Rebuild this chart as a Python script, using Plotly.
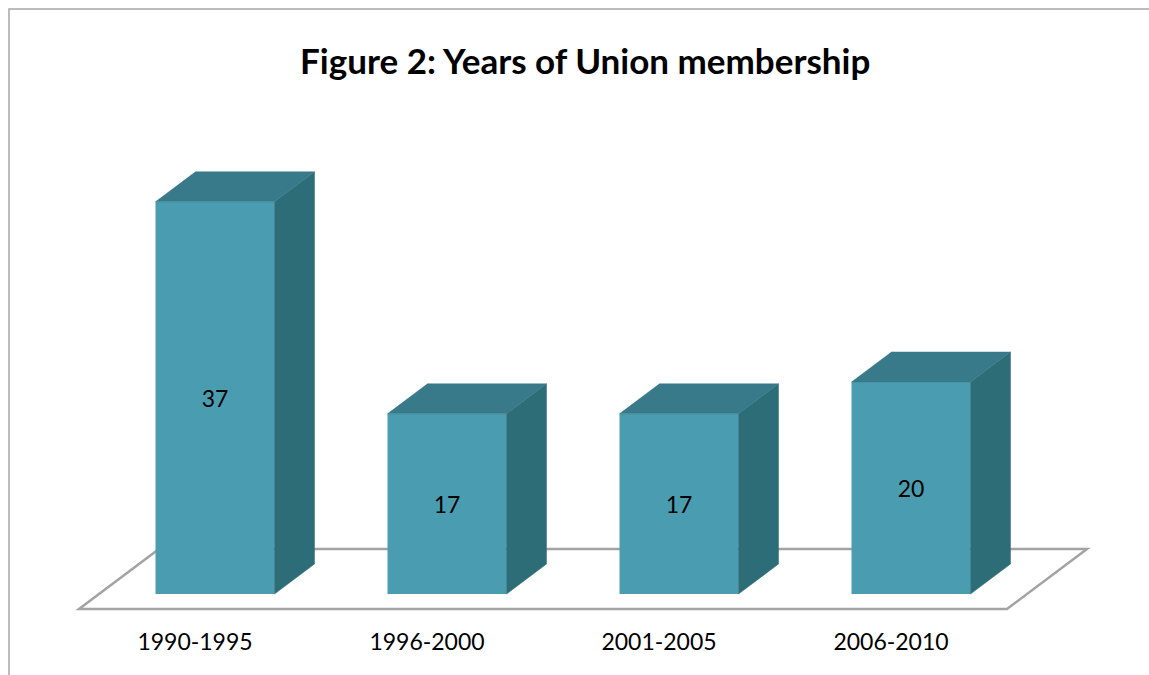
import plotly.graph_objects as go

# Membership counts by period
categories = ["1990-1995", "1996-2000", "2001-2005", "2006-2010"]
members = [37, 17, 17, 20]
title_text = "Figure 2: Years of Union membership"

W, H = 1149, 675

# colours of the three visible faces of each box
FRONT = "#4A9DB1"
TOP = "#387A89"
SIDE = "#2D6D77"
FLOOR_LINE = "#A3A3A3"

# pixel scale of the category and value axes
PX_PER_CAT = 232.0
PX_PER_VAL = 10.6
FLOOR_LEFT_PX = 79.0
BASE_PX = 594.0

x_range = [(0 - FLOOR_LEFT_PX) / PX_PER_CAT - 0.5, (W - FLOOR_LEFT_PX) / PX_PER_CAT - 0.5]
y_range = [(BASE_PX - H) / PX_PER_VAL, BASE_PX / PX_PER_VAL]

# oblique projection of the depth direction
DX = 80.0 / PX_PER_CAT          # horizontal shift across full floor depth
DY = 60.0 / PX_PER_VAL          # vertical shift across full floor depth
BAR_D0, BAR_D1 = 0.25, 0.75     # boxes occupy the middle half of the depth
BAR_W = 119.0 / PX_PER_CAT


def proj(x, v, d):
    """Project a point (category x, value v, depth d) onto the page."""
    return x + d * DX, v + (d - BAR_D0) * DY


fig = go.Figure()

# front faces of the boxes, with value labels
fig.add_trace(go.Bar(
    x=[i + BAR_D0 * DX for i in range(len(categories))],
    y=members,
    width=BAR_W,
    marker=dict(color=FRONT, line=dict(width=0)),
    text=[str(v) for v in members],
    textposition="inside",
    insidetextanchor="middle",
    textangle=0,
    textfont=dict(family="Lato", size=23, color="#000000"),
    hoverinfo="skip",
    showlegend=False,
))

# top and right-hand faces
for i, v in enumerate(members):
    xl, xr = i - BAR_W / 2, i + BAR_W / 2
    top = [proj(xl, v, BAR_D0), proj(xr, v, BAR_D0), proj(xr, v, BAR_D1), proj(xl, v, BAR_D1)]
    side = [proj(xr, 0, BAR_D0), proj(xr, v, BAR_D0), proj(xr, v, BAR_D1), proj(xr, 0, BAR_D1)]
    for pts, col in ((side, SIDE), (top, TOP)):
        xs = [p[0] for p in pts] + [pts[0][0]]
        ys = [p[1] for p in pts] + [pts[0][1]]
        fig.add_trace(go.Scatter(
            x=xs, y=ys, mode="lines", fill="toself",
            fillcolor=col, line=dict(color=col, width=0.5),
            hoverinfo="skip", showlegend=False,
        ))

# floor plane under the boxes
n = len(categories)
corners = [proj(-0.5, 0, 0), proj(n - 0.5, 0, 0), proj(n - 0.5, 0, 1), proj(-0.5, 0, 1)]
path = "M " + " L ".join(f"{cx},{cy}" for cx, cy in corners) + " Z"

shapes = [
    dict(type="path", path=path, xref="x", yref="y", layer="below",
         line=dict(color=FLOOR_LINE, width=2.5), fillcolor="white"),
    # chart frame
    dict(type="rect", xref="paper", yref="paper",
         x0=9 / W, x1=1.2, y0=-0.2, y1=1 - 9 / H,
         line=dict(color="#A6A6A6", width=1.5), fillcolor="rgba(0,0,0,0)", layer="below"),
]

fig.update_layout(
    width=W, height=H,
    margin=dict(l=0, r=0, t=0, b=0),
    paper_bgcolor="white", plot_bgcolor="white",
    shapes=shapes,
    showlegend=False,
    xaxis=dict(
        range=x_range, showgrid=False, zeroline=False, showline=False,
        tickmode="array", tickvals=list(range(n)), ticktext=categories,
        ticks="", tickfont=dict(family="Lato", size=23, color="#000000"),
        anchor="free", position=(H - 609) / H, ticklabelstandoff=17,
    ),
    yaxis=dict(range=y_range, visible=False),
    annotations=[dict(
        text=f"<b>{title_text}</b>", xref="paper", yref="paper",
        x=584.5 / W, y=1 - 60 / H, xanchor="center", yanchor="middle",
        showarrow=False, font=dict(family="Lato", size=35, color="#000000"),
    )],
)

fig.write_html("out.html")
